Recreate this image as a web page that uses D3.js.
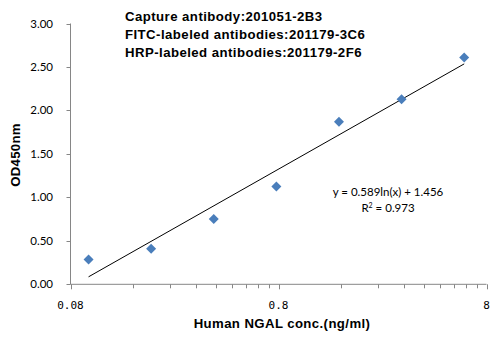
<!DOCTYPE html>
<html><head><meta charset="utf-8">
<script src="https://cdn.jsdelivr.net/npm/d3@7"></script>
<style>
body{margin:0;background:#fff;}
svg{display:block;}
</style></head>
<body>
<svg id="c" width="503" height="341"></svg>
<script>
// Data
const concentrations = [0.0977, 0.1953, 0.3906, 0.7813, 1.5625, 3.125, 6.25];
const odValues = [0.285, 0.41, 0.75, 1.125, 1.87, 2.13, 2.61];
const yTicks = [0, 0.5, 1.0, 1.5, 2.0, 2.5, 3.0];
const xMajorTicks = [0.08, 0.8, 8];
const xMajorLabels = ["0.08", "0.8", "8"];
const fitSlope = 0.589, fitIntercept = 1.456, fitR2 = 0.973;
const noteLines = ["Capture antibody:201051-2B3", "FITC-labeled antibodies:201179-3C6", "HRP-labeled antibodies:201179-2F6"];

const svg = d3.select("#c");
const x = d3.scaleLog().domain([0.08, 8]).range([70.5, 486.5]);
const y = d3.scaleLinear().domain([0, 3]).range([284.3, 23.5]);
const axisColor = "#868686";

// minor x ticks: 0.08*k, 0.8*k
const xMinor = [];
[0.08, 0.8].forEach(b => { for (let k = 2; k <= 9; k++) xMinor.push(b * k); });

const gx = svg.append("g").attr("transform", `translate(0,${y(0)})`);
gx.append("line").attr("x1", x.range()[0]).attr("x2", x.range()[1]).attr("stroke", axisColor);
gx.selectAll(".mj").data(xMajorTicks).join("line")
  .attr("x1", d => Math.round(x(d)) + 0.5).attr("x2", d => Math.round(x(d)) + 0.5)
  .attr("y1", 0).attr("y2", 5).attr("stroke", axisColor);
gx.selectAll(".mn").data(xMinor).join("line")
  .attr("x1", d => Math.round(x(d)) + 0.5).attr("x2", d => Math.round(x(d)) + 0.5)
  .attr("y1", 0).attr("y2", 4).attr("stroke", axisColor);
gx.selectAll("text").data(xMajorTicks).join("text")
  .attr("x", d => x(d)).attr("y", 25)
  .attr("text-anchor", "middle")
  .attr("font-family", "DejaVu Sans Mono, monospace").attr("font-size", 11)
  .attr("fill", "#000")
  .text((d, i) => xMajorLabels[i]);

const gy = svg.append("g").attr("transform", `translate(${x.range()[0]},0)`);
gy.append("line").attr("y1", y(0)).attr("y2", y(3)).attr("stroke", axisColor);
gy.selectAll(".t").data(yTicks).join("line")
  .attr("x1", -4).attr("x2", 0)
  .attr("y1", d => Math.round(y(d)) + 0.5).attr("y2", d => Math.round(y(d)) + 0.5)
  .attr("stroke", axisColor);
gy.selectAll("text").data(yTicks).join("text")
  .attr("x", -17.5).attr("y", d => y(d) + 4)
  .attr("text-anchor", "end")
  .attr("font-family", "Lato, sans-serif").attr("font-size", 11.5)
  .attr("fill", "#000")
  .text(d => d3.format(".2f")(d));

// trendline
const xr = d3.extent(concentrations);
const line = d3.line().x(d => x(d)).y(d => y(fitSlope * Math.log(d) + fitIntercept));
svg.append("path").datum(xr).attr("d", line).attr("fill", "none").attr("stroke", "#000").attr("stroke-width", 1);

// points
svg.selectAll(".pt").data(concentrations).join("path")
  .attr("transform", (d, i) => `translate(${x(d)},${y(odValues[i])})`)
  .attr("d", "M0,-5L5,0L0,5L-5,0Z")
  .attr("fill", "#4a7ebb");

// notes
svg.selectAll(".note").data(noteLines).join("text")
  .attr("x", 125).attr("y", (d, i) => 21 + i * 18.2)
  .attr("font-family", "Liberation Sans, Arial, sans-serif").attr("font-size", 13.2)
  .attr("letter-spacing", 0.45)
  .attr("font-weight", "bold").attr("fill", "#000")
  .text(d => d);

// equation
svg.append("text").attr("x", 388).attr("y", 196).attr("text-anchor", "middle")
  .attr("font-family", "Lato, sans-serif").attr("font-size", 11.5).attr("fill", "#000")
  .text(`y = ${fitSlope}ln(x) + ${fitIntercept}`);
const r = svg.append("text").attr("x", 388).attr("y", 212).attr("text-anchor", "middle")
  .attr("font-family", "Lato, sans-serif").attr("font-size", 11.5).attr("fill", "#000");
r.append("tspan").text("R");
r.append("tspan").attr("dy", -4).attr("font-size", 7).text("2");
r.append("tspan").attr("dy", 4).text(` = ${fitR2}`);

// axis titles
svg.append("text").attr("x", 282).attr("y", 328).attr("text-anchor", "middle")
  .attr("font-family", "Liberation Sans, Arial, sans-serif").attr("font-size", 13.2)
  .attr("letter-spacing", 0.4)
  .attr("font-weight", "bold").text("Human NGAL conc.(ng/ml)");
svg.append("text").attr("transform", "translate(20,155) rotate(-90)").attr("text-anchor", "middle")
  .attr("font-family", "Liberation Sans, Arial, sans-serif").attr("font-size", 13.2)
  .attr("letter-spacing", 0.3)
  .attr("font-weight", "bold").text("OD450nm");
</script>
</body></html>
